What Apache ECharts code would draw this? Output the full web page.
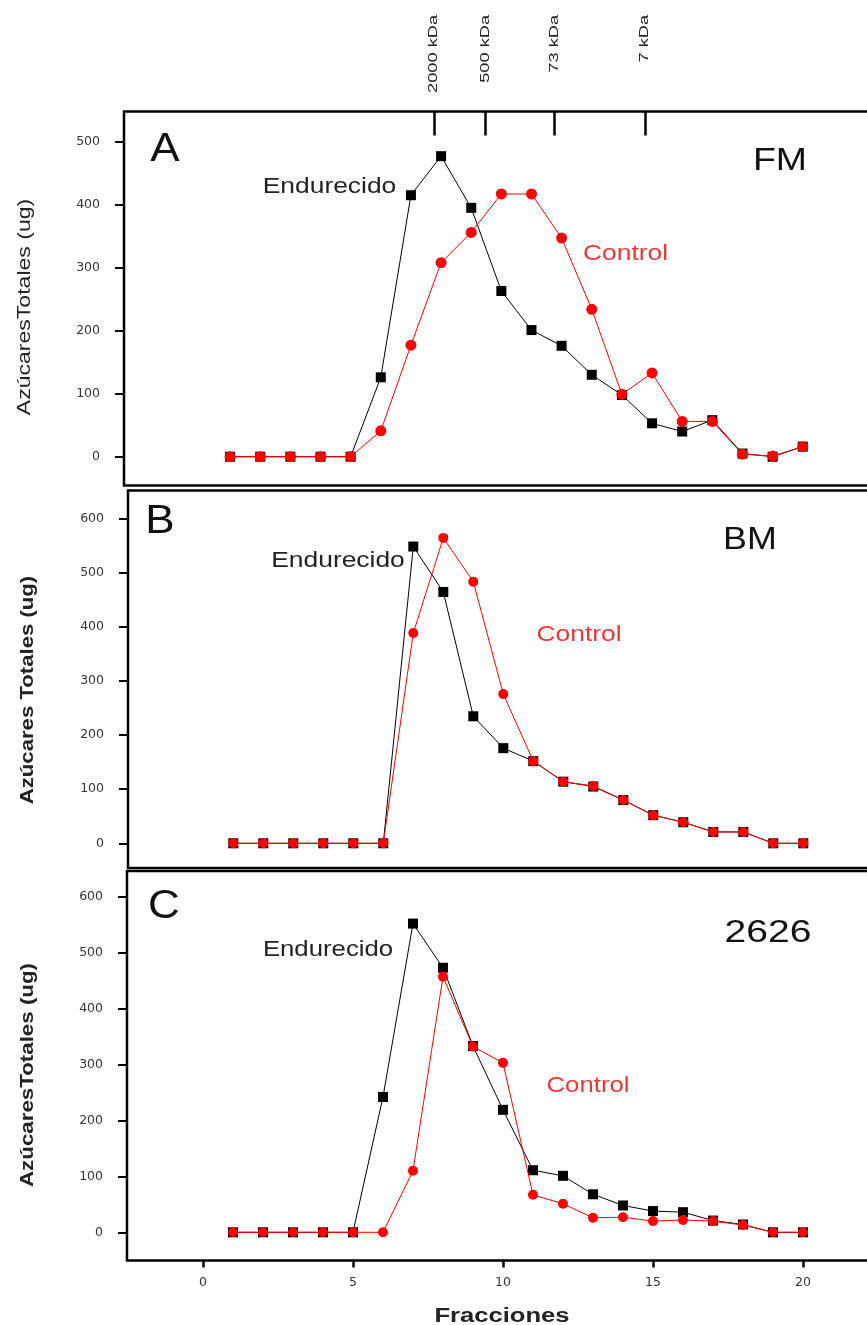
<!DOCTYPE html>
<html>
<head>
<meta charset="utf-8">
<script src="https://cdn.jsdelivr.net/npm/echarts@6/dist/echarts.min.js"></script>
<style>
  html, body { margin: 0; padding: 0; background: #fff; }
  #chart { width: 867px; height: 1325px; }
</style>
</head>
<body>
<div id="chart"></div>
<script>
// Fraction numbers (x values)
const fractions = [1, 2, 3, 4, 5, 6, 7, 8, 9, 10, 11, 12, 13, 14, 15, 16, 17, 18, 19, 20];

// Panel A (FM): total sugars per fraction, ug
const fmEndurecido = [0, 0, 0, 0, 0, 126, 415, 477, 395, 263, 201, 176, 130, 98, 53, 40, 58, 5, 0, 16];
const fmControl    = [0, 0, 0, 0, 0, 41, 177, 308, 356, 417, 417, 347, 234, 99, 133, 56, 56, 4, 1, 16];

// Panel B (BM)
const bmEndurecido = [0, 0, 0, 0, 0, 0, 549, 465, 235, 176, 152, 114, 105, 80, 52, 39, 21, 21, 0, 0];
const bmControl    = [0, 0, 0, 0, 0, 0, 389, 565, 484, 276, 152, 114, 106, 80, 52, 39, 21, 21, 0, 0];

// Panel C (2626)
const c2626Endurecido = [0, 0, 0, 0, 0, 242, 552, 473, 333, 219, 111, 101, 68, 48, 38, 36, 21, 14, 0, 0];
const c2626Control    = [0, 0, 0, 0, 0, 0, 110, 457, 332, 303, 67, 51, 26, 27, 20, 22, 20, 13, 0, 0];

// Molecular-weight markers along the top of panel A
const kdaPositions = [7.76, 9.46, 11.75, 14.76];
const kdaLabels = ['2000 kDa', '500 kDa', '73 kDa', '7 kDa'];

// Tick labels
const xTicks = [0, 5, 10, 15, 20];
const yTicksA = [0, 100, 200, 300, 400, 500];
const yTicksBC = [0, 100, 200, 300, 400, 500, 600];

const pairs = (vals) => fractions.map((f, i) => [f, vals[i]]);

const tickFont = { fontFamily: 'DejaVu Sans', fontSize: 12.5, color: '#333' };

function grid(left, top, height) {
  return {
    left: left, top: top, width: 760, height: height,
    show: true, borderColor: '#000', borderWidth: 2.5,
    backgroundColor: 'transparent',
    outerBoundsMode: 'none', containLabel: false
  };
}

function hiddenX(gridIndex, min, max) {
  return { type: 'value', gridIndex, min, max, show: false };
}

function yAxis(gridIndex, min, max, ticks) {
  return {
    type: 'value', gridIndex, min, max,
    axisLine: { show: false, onZero: false },
    splitLine: { show: false },
    axisTick: { show: true, inside: false, length: 9, customValues: ticks,
                lineStyle: { color: '#000', width: 2 } },
    axisLabel: Object.assign({ margin: 24, customValues: ticks }, tickFont)
  };
}

function lineSeries(name, xIdx, yIdx, vals, color, symbol, size) {
  return {
    name, type: 'line', xAxisIndex: xIdx, yAxisIndex: yIdx,
    data: pairs(vals),
    symbol, symbolSize: size, showSymbol: true,
    lineStyle: { color, width: 1 },
    itemStyle: { color, borderWidth: 0 },
    animation: false, z: color === '#000' ? 2 : 3
  };
}

function txt(text, x, y, size, opts) {
  opts = opts || {};
  return {
    type: 'text', x, y,
    scaleX: opts.scaleX || 1,
    rotation: opts.rotation || 0,
    style: {
      text, fontSize: size,
      fontFamily: opts.family || 'Liberation Sans',
      fontWeight: opts.weight || 'normal',
      fill: opts.color || '#111',
      align: opts.align || 'center', verticalAlign: 'middle'
    },
    z: 10
  };
}

const xA = [-2.52, -2.52 + 760 / 30.14];
const xB = [-2.51, -2.51 + 760 / 30];
const xC = [-2.533, -2.533 + 760 / 30];

const option = {
  animation: false,
  backgroundColor: '#fff',
  grid: [
    grid(124, 111.5, 374),
    grid(128, 490.5, 377.5),
    grid(127, 871, 389.5)
  ],
  xAxis: [
    hiddenX(0, xA[0], xA[1]),
    hiddenX(1, xB[0], xB[1]),
    {
      type: 'value', gridIndex: 2, min: xC[0], max: xC[1],
      axisLine: { show: false, onZero: false },
      splitLine: { show: false },
      axisTick: { show: true, length: 7, customValues: xTicks,
                  lineStyle: { color: '#000', width: 2.5 } },
      axisLabel: Object.assign({ margin: 16, customValues: xTicks }, tickFont)
    },
    {
      // top axis of panel A carrying the kDa marker ticks
      type: 'value', gridIndex: 0, position: 'top', min: xA[0], max: xA[1],
      axisLine: { show: false, onZero: false },
      splitLine: { show: false },
      axisTick: { show: true, inside: true, length: 24, customValues: kdaPositions,
                  lineStyle: { color: '#000', width: 2.5 } },
      axisLabel: { show: false }
    }
  ],
  yAxis: [
    yAxis(0, -45.7, 547.9, yTicksA),
    yAxis(1, -45.7, 652.7, yTicksBC),
    yAxis(2, -50.4, 646.0, yTicksBC)
  ],
  series: [
    lineSeries('Endurecido FM', 0, 0, fmEndurecido, '#000', 'rect', 10),
    lineSeries('Control FM', 0, 0, fmControl, '#ff0000', 'circle', 11),
    lineSeries('Endurecido BM', 1, 1, bmEndurecido, '#000', 'rect', 10),
    lineSeries('Control BM', 1, 1, bmControl, '#ff0000', 'circle', 10),
    lineSeries('Endurecido 2626', 2, 2, c2626Endurecido, '#000', 'rect', 10),
    lineSeries('Control 2626', 2, 2, c2626Control, '#ff0000', 'circle', 10)
  ],
  graphic: [
    // panel letters and sample names
    txt('A', 165, 150, 40, { scaleX: 1.1 }),
    txt('FM', 780, 161, 32, { scaleX: 1.17 }),
    txt('B', 160, 522, 40, { scaleX: 1.1 }),
    txt('BM', 750, 540, 32, { scaleX: 1.12 }),
    txt('C', 164, 907, 40, { scaleX: 1.1 }),
    txt('2626', 768, 933, 32, { scaleX: 1.22 }),
    // series annotations
    txt('Endurecido', 329.5, 187, 22, { scaleX: 1.2, color: '#222' }),
    txt('Control', 625.5, 254, 22, { scaleX: 1.2, color: '#e53a3a' }),
    txt('Endurecido', 338, 561, 22, { scaleX: 1.2, color: '#222' }),
    txt('Control', 579, 635, 22, { scaleX: 1.2, color: '#e53a3a' }),
    txt('Endurecido', 328, 950, 22, { scaleX: 1.17, color: '#222' }),
    txt('Control', 588, 1086, 22, { scaleX: 1.17, color: '#e53a3a' }),
    // axis titles
    txt('AzúcaresTotales (ug)', 25, 307, 18, { scaleX: 1.28, rotation: Math.PI / 2, color: '#222' }),
    txt('Azúcares Totales (ug)', 28, 690, 18, { scaleX: 1.23, rotation: Math.PI / 2, weight: 'bold', color: '#222' }),
    txt('AzúcaresTotales (ug)', 28, 1075, 18, { scaleX: 1.24, rotation: Math.PI / 2, weight: 'bold', color: '#222' }),
    txt('Fracciones', 502, 1316, 20, { scaleX: 1.28, weight: 'bold', color: '#222' })
  ]
};

const chart = echarts.init(document.getElementById('chart'), null, { renderer: 'canvas' });
chart.setOption(option);

// kDa labels: vertical text above each marker tick, top ends aligned
const kdaTexts = kdaPositions.map((p, i) => {
  const px = chart.convertToPixel({ xAxisIndex: 3 }, p);
  return txt(kdaLabels[i], px, 15, 13, {
    scaleX: 1.4, rotation: Math.PI / 2, align: 'right', color: '#222'
  });
});
chart.setOption({ graphic: option.graphic.concat(kdaTexts) }, { replaceMerge: ['graphic'] });
</script>
</body>
</html>
